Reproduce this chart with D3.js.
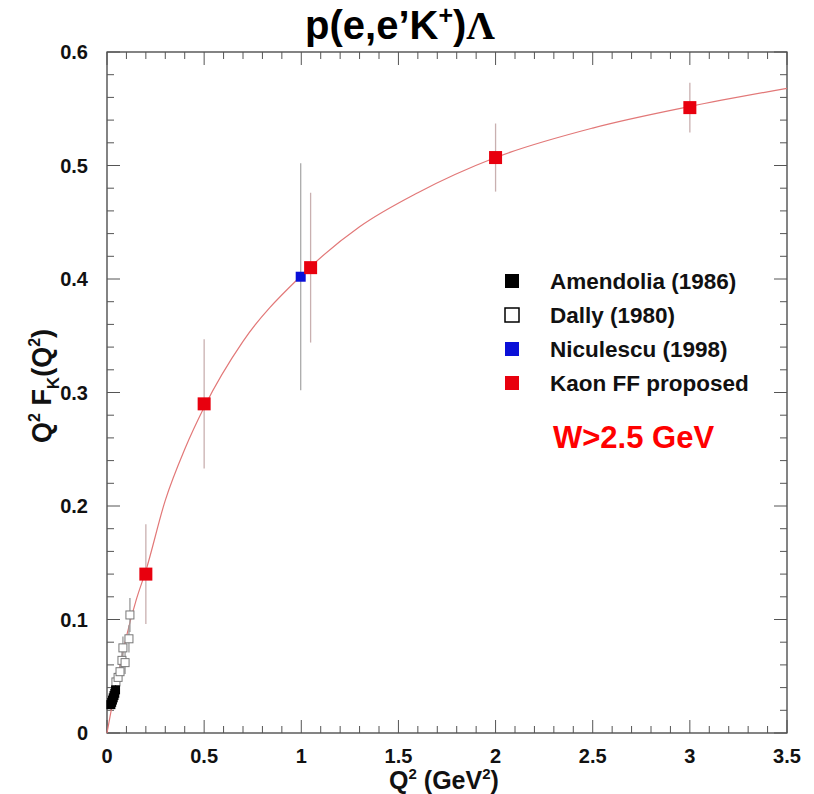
<!DOCTYPE html>
<html>
<head>
<meta charset="utf-8">
<script src="https://cdn.jsdelivr.net/npm/d3@7"></script>
<style>
    body { margin: 0; background: #fff; }
    svg { display: block; font-family: "Liberation Sans", Arial, sans-serif; font-weight: bold; }
</style>
</head>
<body>
<div id="chart"></div>
<script>
// data
const amendoliaQ2  = [0.020, 0.024, 0.028, 0.032, 0.036, 0.040, 0.044];
const amendoliaVal = [0.025, 0.027, 0.029, 0.031, 0.033, 0.035, 0.038];
const amendoliaErr = [0.004, 0.004, 0.004, 0.004, 0.004, 0.004, 0.004];

const dallyQ2  = [0.046, 0.057, 0.067, 0.077, 0.082, 0.093, 0.113, 0.118];
const dallyVal = [0.045, 0.049, 0.054, 0.064, 0.075, 0.062, 0.083, 0.104];
const dallyErr = [0.008, 0.008, 0.009, 0.010, 0.010, 0.010, 0.012, 0.015];

const niculescuQ2  = [0.997];
const niculescuVal = [0.402];
const niculescuErr = [0.100];

const kaonQ2  = [0.2, 0.5, 1.048, 2.0, 3.0];
const kaonVal = [0.140, 0.290, 0.410, 0.507, 0.551];
const kaonErr = [0.044, 0.057, 0.066, 0.030, 0.022];

// red fit curve, read point by point
const curveQ2  = [0, 0.05, 0.1, 0.15, 0.2, 0.3, 0.4, 0.5, 0.7, 1.0, 1.3, 1.6, 2.0, 2.5, 3.0, 3.5];
const curveVal = [0, 0.045, 0.085, 0.117, 0.143, 0.205, 0.250, 0.287, 0.345, 0.403, 0.446, 0.476, 0.507, 0.533, 0.552, 0.568];

const xTicks = [0, 0.5, 1, 1.5, 2, 2.5, 3, 3.5];
const yTicks = [0, 0.1, 0.2, 0.3, 0.4, 0.5, 0.6];

const legendNames = ["Amendolia (1986)", "Dally (1980)", "Niculescu (1998)", "Kaon FF proposed"];

const W = 814, H = 794;
const frame = { left: 107, right: 787, top: 52, bottom: 733 };

const svg = d3.select('#chart').append('svg')
    .attr('width', W)
    .attr('height', H);

const x = d3.scaleLinear().domain([0, 3.5]).range([frame.left, frame.right]);
const y = d3.scaleLinear().domain([0, 0.6]).range([frame.bottom, frame.top]);

// frame
svg.append('rect')
    .attr('x', frame.left).attr('y', frame.top)
    .attr('width', frame.right - frame.left)
    .attr('height', frame.bottom - frame.top)
    .style('fill', 'none').style('stroke', '#333').style('stroke-width', 1.2);

// ticks inside the frame, ROOT style (major + minor on all four sides)
const xMinor = d3.range(0, 3.5001, 0.1);
const yMinor = d3.range(0, 0.6001, 0.02);
const isMajor = (v, step) => Math.abs(v / step - Math.round(v / step)) < 1e-6;

const tickG = svg.append('g').style('stroke', '#555').style('stroke-width', 1);
xMinor.forEach(v => {
    let len = isMajor(v, 0.5) ? 13 : 7;
    tickG.append('line').attr('x1', x(v)).attr('x2', x(v))
        .attr('y1', frame.bottom).attr('y2', frame.bottom - len);
    tickG.append('line').attr('x1', x(v)).attr('x2', x(v))
        .attr('y1', frame.top).attr('y2', frame.top + len);
});
yMinor.forEach(v => {
    let len = isMajor(v, 0.1) ? 13 : 7;
    tickG.append('line').attr('y1', y(v)).attr('y2', y(v))
        .attr('x1', frame.left).attr('x2', frame.left + len);
    tickG.append('line').attr('y1', y(v)).attr('y2', y(v))
        .attr('x1', frame.right).attr('x2', frame.right - len);
});

// tick labels
svg.append('g').selectAll('text').data(xTicks).enter().append('text')
    .attr('x', d => x(d)).attr('y', 763)
    .attr('text-anchor', 'middle')
    .style('font-size', '20px').style('fill', '#111')
    .text(d => d);

svg.append('g').selectAll('text').data(yTicks).enter().append('text')
    .attr('x', 88).attr('y', d => y(d) + 7)
    .attr('text-anchor', 'end')
    .style('font-size', '20px').style('fill', '#111')
    .text(d => d);

// axis titles
const xt = svg.append('text')
    .attr('x', 444).attr('y', 789)
    .attr('text-anchor', 'middle')
    .style('font-size', '25px').style('fill', '#111');
xt.append('tspan').text('Q');
xt.append('tspan').attr('dy', -10).style('font-size', '15px').text('2');
xt.append('tspan').attr('dy', 10).text(' (GeV');
xt.append('tspan').attr('dy', -10).style('font-size', '15px').text('2');
xt.append('tspan').attr('dy', 10).text(')');

const yt = svg.append('text')
    .attr('transform', 'translate(51,386) rotate(-90)')
    .attr('text-anchor', 'middle')
    .style('font-size', '27px').style('fill', '#111');
yt.append('tspan').text('Q');
yt.append('tspan').attr('dy', -11).style('font-size', '16px').text('2');
yt.append('tspan').attr('dy', 11).text(' F');
yt.append('tspan').attr('dy', 8).style('font-size', '17px').text('K');
yt.append('tspan').attr('dy', -8).text('(Q');
yt.append('tspan').attr('dy', -11).style('font-size', '16px').text('2');
yt.append('tspan').attr('dy', 11).text(')');

// title
const title = svg.append('text')
    .attr('x', 400).attr('y', 39)
    .attr('text-anchor', 'middle')
    .style('font-size', '40px').style('fill', '#000');
title.append('tspan').text('p(e,e\u2019K');
title.append('tspan').attr('dy', -15).style('font-size', '25px').text('+');
title.append('tspan').attr('dy', 15).text(')');
title.append('tspan').style('font-family', '"Liberation Serif", "DejaVu Serif", serif').text('\u039B');

// fit curve
const curvePts = curveQ2.map((q, i) => [q, curveVal[i]]);
const line = d3.line()
    .x(d => x(d[0])).y(d => y(d[1]))
    .curve(d3.curveMonotoneX);
svg.append('path')
    .datum(curvePts)
    .attr('d', line)
    .style('fill', 'none').style('stroke', '#e27878').style('stroke-width', 1.2);

// error bars + markers
function drawSeries(q2s, vals, errs, opt) {
    let g = svg.append('g');
    let pts = q2s.map((q, i) => ({ q: q, v: vals[i], e: errs[i] }));
    g.selectAll('line.err').data(pts).enter().append('line')
        .attr('class', 'err')
        .attr('x1', d => x(d.q)).attr('x2', d => x(d.q))
        .attr('y1', d => y(d.v - d.e)).attr('y2', d => y(d.v + d.e))
        .style('stroke', opt.errColor).style('stroke-width', 1.3);
    g.selectAll('rect').data(pts).enter().append('rect')
        .attr('x', d => x(d.q) - opt.size / 2)
        .attr('y', d => y(d.v) - opt.size / 2)
        .attr('width', opt.size).attr('height', opt.size)
        .style('fill', opt.fill)
        .style('stroke', opt.stroke || 'none')
        .style('stroke-width', opt.stroke ? 1 : 0);
}

drawSeries(dallyQ2, dallyVal, dallyErr, { size: 8, fill: '#fff', stroke: '#777', errColor: '#999' });
drawSeries(amendoliaQ2, amendoliaVal, amendoliaErr, { size: 9, fill: '#000', errColor: '#000' });
drawSeries(niculescuQ2, niculescuVal, niculescuErr, { size: 10, fill: '#0a10d8', errColor: '#aaa' });
drawSeries(kaonQ2, kaonVal, kaonErr, { size: 13, fill: '#e8000e', errColor: '#c9b0b0' });

// legend
const legendStyle = [
    { fill: '#000', stroke: null },
    { fill: '#fff', stroke: '#000' },
    { fill: '#0a10d8', stroke: null },
    { fill: '#e8000e', stroke: null }
];
const legend = svg.append('g');
legendNames.forEach((name, i) => {
    let cy = 281 + i * 34;
    legend.append('rect')
        .attr('x', 505).attr('y', cy - 7)
        .attr('width', 14).attr('height', 14)
        .style('fill', legendStyle[i].fill)
        .style('stroke', legendStyle[i].stroke || 'none')
        .style('stroke-width', 1.5);
    legend.append('text')
        .attr('x', 550).attr('y', cy + 8)
        .style('font-size', '22.5px').style('fill', '#111')
        .text(name);
});

svg.append('text')
    .attr('x', 553).attr('y', 448)
    .style('font-size', '31px').style('fill', '#f00')
    .text('W>2.5 GeV');
</script>
</body>
</html>
